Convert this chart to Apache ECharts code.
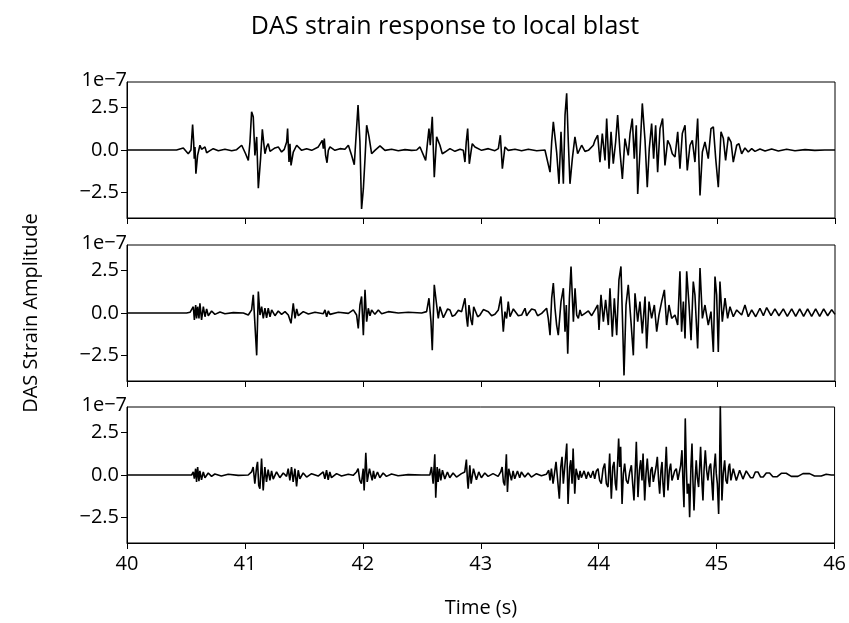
<!DOCTYPE html>
<html>
<head>
<meta charset="utf-8">
<script src="https://cdn.jsdelivr.net/npm/echarts@6/dist/echarts.min.js"></script>
<style>html,body{margin:0;padding:0;background:#fff}#c{width:849px;height:623px}</style>
</head>
<body>
<div id="c"></div>
<script>
// Values in units of 1e-7 strain; time in seconds
const X_TICKS = [40, 41, 42, 43, 44, 45, 46];
const Y_TICKS = [-2.5, 0, 2.5];
const TRACE1 = [[40.000,0],[40.420,0],[40.477,0.12],[40.519,-0.22],[40.542,0],[40.556,1.5],[40.565,0.47],[40.570,-0.51],[40.576,0.18],[40.584,-1.4],[40.598,-0.32],[40.618,0.28],[40.632,0.04],[40.647,-0.02],[40.661,0.18],[40.675,-0.16],[40.703,-0.04],[40.731,0.08],[40.774,-0.04],[40.830,0.04],[40.887,-0.04],[40.929,0.02],[40.972,0.28],[41.005,-0.22],[41.028,-0.61],[41.042,0.47],[41.056,2.25],[41.070,1.95],[41.084,-0.32],[41.099,0.77],[41.113,-2.25],[41.132,-0.51],[41.147,1.22],[41.158,0.47],[41.169,-0.22],[41.183,0.18],[41.197,0.37],[41.212,-0.08],[41.226,-0.12],[41.254,0.12],[41.282,0.18],[41.310,-0.12],[41.333,0.04],[41.353,0.47],[41.361,1.26],[41.373,-0.71],[41.381,0.37],[41.390,-0.91],[41.409,-0.12],[41.438,0.28],[41.480,-0.02],[41.522,0.08],[41.565,-0.02],[41.621,0.18],[41.655,0.57],[41.664,0.08],[41.672,0.67],[41.683,-0.32],[41.695,-0.75],[41.706,-0.02],[41.720,0.18],[41.762,-0.02],[41.805,0.08],[41.847,0.04],[41.876,0.28],[41.904,-0.32],[41.926,-0.87],[41.958,2.64],[41.974,0.47],[41.988,-3.47],[42.003,-2.29],[42.017,-0.51],[42.031,1.46],[42.051,0.77],[42.073,-0.22],[42.101,-0.02],[42.144,0.24],[42.186,-0.02],[42.243,0.04],[42.299,-0.04],[42.356,0.02],[42.412,-0.02],[42.455,0],[42.483,0.18],[42.531,-0.61],[42.559,1.26],[42.570,0.28],[42.587,1.95],[42.604,-1.6],[42.624,0.77],[42.652,0.28],[42.672,-0.22],[42.695,-0.12],[42.737,0.08],[42.779,-0.08],[42.822,0.04],[42.850,-0.02],[42.864,-0.71],[42.875,0.47],[42.887,1.26],[42.901,-0.81],[42.915,-0.12],[42.926,0.37],[42.949,0.18],[43.005,-0.02],[43.062,0.08],[43.118,-0.04],[43.147,0.08],[43.164,0.87],[43.181,-1.1],[43.203,0.18],[43.231,-0.02],[43.288,0.04],[43.344,-0.04],[43.401,0.04],[43.472,-0.04],[43.542,0],[43.556,0.08],[43.585,-1.3],[43.599,0.47],[43.613,1.66],[43.627,1.56],[43.641,-0.12],[43.661,-1.99],[43.678,1.07],[43.698,-1.99],[43.712,2.05],[43.726,3.33],[43.740,0.47],[43.754,-1.99],[43.774,-0.51],[43.796,0.77],[43.819,-0.22],[43.853,0.28],[43.881,-0.08],[43.910,-0.02],[43.952,0.28],[43.966,0.57],[43.989,0.87],[44.008,-0.71],[44.028,0.97],[44.051,-0.61],[44.065,1.85],[44.085,-1.1],[44.102,1.07],[44.121,-0.81],[44.141,0.47],[44.158,2.05],[44.178,-0.12],[44.198,-1.7],[44.220,0.67],[44.248,-0.32],[44.263,0.97],[44.282,1.85],[44.299,-0.51],[44.316,1.46],[44.328,-2.58],[44.347,-0.12],[44.367,2.74],[44.390,0.57],[44.409,-2.19],[44.426,0.08],[44.446,1.56],[44.463,-0.51],[44.480,1.46],[44.497,-1.3],[44.517,1.26],[44.539,1.85],[44.559,-0.91],[44.582,0.57],[44.602,0.28],[44.621,-0.22],[44.644,-0.41],[44.667,1.07],[44.686,-1.1],[44.706,0.97],[44.729,1.46],[44.748,-1.2],[44.771,0.28],[44.791,0.57],[44.813,-0.71],[44.836,1.85],[44.856,-2.68],[44.876,-0.12],[44.898,0.47],[44.926,-0.51],[44.949,1.26],[44.969,1.36],[44.989,-0.51],[45.011,-2.19],[45.034,1.07],[45.054,0.67],[45.073,-0.61],[45.096,0.77],[45.119,0.47],[45.138,-0.71],[45.167,0.28],[45.186,0.37],[45.209,-0.22],[45.237,0.12],[45.265,-0.12],[45.294,0.08],[45.322,-0.08],[45.364,0.06],[45.407,-0.06],[45.463,0.06],[45.520,-0.06],[45.590,0.04],[45.661,-0.04],[45.746,0.02],[45.829,-0.02],[45.913,0],[46.000,0]];
const TRACE2 = [[40.000,0],[40.505,0],[40.534,0.04],[40.562,0.37],[40.571,-0.41],[40.582,0.47],[40.590,-0.32],[40.599,0.37],[40.610,-0.32],[40.618,0.57],[40.632,-0.41],[40.647,0.37],[40.661,-0.22],[40.675,0.24],[40.689,-0.16],[40.717,0.12],[40.745,-0.08],[40.788,0.06],[40.830,-0.04],[40.901,0.02],[40.986,0],[41.028,-0.12],[41.056,0.18],[41.070,1.07],[41.084,0.97],[41.099,-2.49],[41.113,1.26],[41.127,-0.12],[41.141,0.37],[41.155,-0.32],[41.169,0.28],[41.183,-0.28],[41.197,0.28],[41.212,-0.22],[41.226,0.18],[41.254,-0.16],[41.282,0.12],[41.310,-0.08],[41.339,0.08],[41.367,-0.12],[41.390,-0.61],[41.409,0.57],[41.424,-0.32],[41.438,0.24],[41.452,-0.16],[41.494,0.08],[41.537,-0.06],[41.593,0.04],[41.664,-0.04],[41.678,0.18],[41.692,-0.22],[41.706,0.12],[41.720,-0.08],[41.791,0.04],[41.876,-0.02],[41.918,0.18],[41.946,-0.12],[41.960,-0.91],[41.974,0.47],[41.988,0.97],[42.003,-1.3],[42.017,1.36],[42.031,-0.51],[42.045,0.28],[42.059,-0.16],[42.073,0.18],[42.101,-0.08],[42.130,0.18],[42.158,-0.04],[42.214,0.08],[42.299,0],[42.384,0.04],[42.497,0],[42.539,0.08],[42.559,0.87],[42.576,-0.51],[42.587,-2.19],[42.604,1.66],[42.624,0.47],[42.638,-0.32],[42.652,0.37],[42.666,0.28],[42.681,-0.28],[42.695,-0.22],[42.717,0.24],[42.737,0.18],[42.757,-0.2],[42.779,-0.12],[42.808,0.16],[42.836,0.08],[42.864,0.87],[42.878,-0.32],[42.887,-0.81],[42.898,0.47],[42.915,-0.41],[42.926,-0.71],[42.938,0.37],[42.949,0.18],[42.972,-0.22],[42.991,-0.12],[43.020,0.2],[43.062,0.08],[43.090,-0.16],[43.118,-0.08],[43.147,0.18],[43.169,0.97],[43.189,-1.1],[43.203,0.08],[43.217,-0.32],[43.231,0.67],[43.246,-0.22],[43.260,-0.32],[43.274,0.24],[43.288,0.28],[43.316,-0.16],[43.344,-0.12],[43.373,0.28],[43.387,-0.16],[43.401,-0.02],[43.429,0.24],[43.457,0.18],[43.480,-0.16],[43.514,-0.02],[43.556,0.28],[43.570,-0.32],[43.585,-1.3],[43.599,0.87],[43.613,1.76],[43.627,0.28],[43.641,-0.71],[43.655,-1.3],[43.678,0.67],[43.698,1.46],[43.712,-1.1],[43.723,0.47],[43.735,-2.39],[43.749,0.87],[43.763,2.74],[43.783,-0.51],[43.797,1.46],[43.811,-0.12],[43.825,-0.32],[43.839,0.18],[43.853,-0.16],[43.881,-0.02],[43.910,0.12],[43.938,-0.16],[43.966,0.18],[43.989,0.47],[44.000,-1.0],[44.017,1.07],[44.037,-0.51],[44.056,0.77],[44.079,-0.71],[44.093,1.46],[44.113,-1.4],[44.130,0.87],[44.150,-1.3],[44.169,1.95],[44.186,2.74],[44.198,-0.12],[44.212,-3.67],[44.229,0.47],[44.248,1.66],[44.271,-0.51],[44.291,-2.49],[44.305,1.16],[44.328,-0.51],[44.347,0.67],[44.367,-1.2],[44.390,0.97],[44.404,-2.09],[44.424,0.67],[44.446,-0.32],[44.469,0.47],[44.489,-1.1],[44.508,-0.12],[44.531,0.67],[44.554,1.36],[44.573,-0.71],[44.593,0.47],[44.616,-0.32],[44.644,-0.12],[44.667,-0.71],[44.686,2.45],[44.700,-1.1],[44.715,0.67],[44.729,-1.5],[44.743,2.45],[44.763,0.47],[44.780,-1.6],[44.799,1.85],[44.813,1.07],[44.836,-2.09],[44.856,2.64],[44.876,-0.32],[44.898,0.47],[44.926,-0.71],[44.949,0.08],[44.969,-2.29],[44.983,2.15],[44.997,1.07],[45.011,-2.29],[45.025,1.85],[45.045,-0.51],[45.068,0.87],[45.090,-0.32],[45.110,0.37],[45.138,-0.22],[45.167,0.18],[45.209,-0.12],[45.237,0.47],[45.265,-0.22],[45.294,0.18],[45.328,-0.22],[45.364,0.28],[45.393,-0.16],[45.421,0.32],[45.458,-0.16],[45.491,0.24],[45.525,-0.16],[45.562,0.24],[45.596,-0.2],[45.633,0.24],[45.667,-0.2],[45.701,0.24],[45.734,-0.2],[45.768,0.24],[45.802,-0.2],[45.836,0.24],[45.870,-0.2],[45.904,0.24],[45.938,-0.16],[45.972,0.2],[46.000,-0.08]];
const TRACE3 = [[40.000,0],[40.548,0],[40.562,0.18],[40.571,-0.22],[40.582,0.37],[40.590,-0.41],[40.599,0.47],[40.610,-0.36],[40.618,0.24],[40.632,-0.28],[40.647,0.18],[40.661,-0.16],[40.689,0.12],[40.717,-0.08],[40.745,0.06],[40.800,-0.06],[40.858,0.04],[40.943,-0.02],[41.028,0],[41.056,0.18],[41.070,0.47],[41.084,-0.51],[41.099,0.47],[41.107,0.77],[41.117,-0.61],[41.127,-0.81],[41.141,0.97],[41.155,-0.91],[41.169,0.47],[41.183,-0.41],[41.197,0.32],[41.212,-0.32],[41.226,0.24],[41.240,-0.24],[41.268,0.18],[41.296,-0.16],[41.325,0.12],[41.353,-0.08],[41.367,0.37],[41.381,-0.32],[41.395,0.47],[41.409,-0.41],[41.424,0.37],[41.438,-0.67],[41.452,0.28],[41.466,-0.22],[41.494,0.12],[41.523,-0.12],[41.565,0.08],[41.621,-0.06],[41.664,0.18],[41.678,-0.22],[41.692,0.28],[41.706,-0.28],[41.720,0.18],[41.734,-0.16],[41.777,0.08],[41.819,-0.06],[41.876,0.04],[41.918,-0.02],[41.946,0.18],[41.960,0.37],[41.974,-0.32],[41.988,-0.51],[42.003,0.37],[42.011,-0.91],[42.025,1.3],[42.037,-0.41],[42.045,-0.51],[42.056,0.37],[42.068,0.28],[42.079,-0.32],[42.090,0.24],[42.101,-0.22],[42.124,0.18],[42.144,-0.16],[42.172,0.12],[42.200,-0.08],[42.243,0.06],[42.299,-0.04],[42.384,0.02],[42.497,0],[42.568,0],[42.582,0.47],[42.596,-0.51],[42.610,1.22],[42.618,-1.34],[42.630,0.47],[42.638,-0.41],[42.649,0.37],[42.661,-0.32],[42.675,0.28],[42.695,-0.24],[42.717,0.18],[42.737,-0.16],[42.765,0.12],[42.794,-0.12],[42.836,0.08],[42.864,0.18],[42.878,0.91],[42.887,-0.32],[42.893,-0.81],[42.907,0.57],[42.918,-0.51],[42.926,-0.61],[42.938,0.37],[42.949,0.28],[42.963,-0.28],[42.983,0.18],[43.005,-0.16],[43.034,0.12],[43.062,-0.08],[43.104,0.08],[43.147,-0.08],[43.169,0.18],[43.181,0.47],[43.192,-0.41],[43.203,-0.61],[43.217,1.22],[43.226,-1.0],[43.237,0.37],[43.246,0.28],[43.260,-0.32],[43.274,0.24],[43.288,-0.22],[43.311,0.24],[43.330,-0.16],[43.344,0.18],[43.373,-0.12],[43.401,0.12],[43.429,-0.12],[43.472,0.08],[43.514,-0.04],[43.556,0.04],[43.576,0.28],[43.587,-0.32],[43.599,0.37],[43.613,-0.51],[43.627,-0.61],[43.638,0.77],[43.650,0.87],[43.666,-1.4],[43.678,0.47],[43.689,1.07],[43.700,-0.51],[43.712,-0.51],[43.729,1.85],[43.740,-1.7],[43.754,0.47],[43.763,0.87],[43.774,-0.51],[43.783,1.56],[43.797,-1.1],[43.808,0.37],[43.830,-0.28],[43.842,0.24],[43.853,-0.16],[43.876,0.24],[43.895,-0.22],[43.910,0.18],[43.932,-0.16],[43.952,0.24],[43.966,-0.22],[43.980,0.24],[43.994,0.37],[44.008,-0.32],[44.022,-0.51],[44.037,0.37],[44.051,0.67],[44.065,-0.51],[44.079,-0.71],[44.093,1.26],[44.107,-1.4],[44.119,0.47],[44.130,0.77],[44.141,-0.51],[44.150,-0.91],[44.169,2.15],[44.178,0.47],[44.186,1.66],[44.198,-1.7],[44.209,0.08],[44.220,0.67],[44.234,-0.32],[44.248,-0.51],[44.263,0.18],[44.277,0.57],[44.288,-0.51],[44.299,-1.5],[44.311,0.47],[44.319,1.95],[44.333,-1.3],[44.345,0.28],[44.356,0.87],[44.367,-0.32],[44.376,1.26],[44.390,-1.5],[44.401,0.08],[44.412,0.97],[44.424,-0.32],[44.432,-0.71],[44.441,0.28],[44.452,0.47],[44.463,-0.41],[44.475,-0.32],[44.486,0.47],[44.497,1.07],[44.508,-0.32],[44.517,-1.1],[44.528,0.28],[44.537,0.77],[44.545,-0.51],[44.554,-1.3],[44.565,0.47],[44.573,1.66],[44.587,-0.91],[44.599,0.28],[44.610,0.67],[44.621,-0.32],[44.630,-0.12],[44.644,0.24],[44.658,0.37],[44.672,-0.28],[44.686,-0.32],[44.695,0.57],[44.706,1.46],[44.715,-0.51],[44.723,-1.89],[44.734,3.33],[44.743,0.47],[44.751,-1.1],[44.763,-0.51],[44.771,-2.49],[44.782,0.47],[44.791,1.85],[44.799,-0.32],[44.808,-2.09],[44.819,-0.12],[44.827,0.87],[44.836,-0.12],[44.847,-0.71],[44.856,0.47],[44.864,1.66],[44.876,-0.51],[44.884,-1.5],[44.893,0.28],[44.904,1.46],[44.915,0.28],[44.926,-0.32],[44.938,0.47],[44.949,0.67],[44.960,-0.51],[44.969,-1.5],[44.977,0.28],[44.989,1.26],[44.997,0.08],[45.006,-0.51],[45.017,-2.29],[45.025,0.47],[45.031,4.12],[45.040,0.47],[45.045,-1.5],[45.056,0.08],[45.068,0.87],[45.079,-0.32],[45.090,-0.51],[45.102,0.47],[45.110,0.67],[45.121,-0.32],[45.130,-0.41],[45.141,0.37],[45.152,0.47],[45.167,-0.32],[45.181,-0.32],[45.195,0.28],[45.209,0.28],[45.223,-0.24],[45.237,-0.22],[45.251,0.24],[45.265,0.24],[45.288,-0.16],[45.308,-0.16],[45.328,0.18],[45.350,0.18],[45.373,-0.12],[45.395,-0.12],[45.421,0.12],[45.449,0.12],[45.477,-0.1],[45.514,-0.1],[45.548,0.1],[45.590,0.1],[45.633,-0.08],[45.689,-0.08],[45.732,0.08],[45.788,0.08],[45.830,-0.06],[45.887,-0.06],[45.929,0.04],[45.972,0],[46.000,0]];
const TRACES = [TRACE1, TRACE2, TRACE3];

const FONT = 'Open Sans';
const chart = echarts.init(document.getElementById('c'), null, {renderer: 'canvas'});
const tops = [82, 245, 407];
const H = 136;
const fmtY = v => (v < 0 ? '\u2212' : '') + Math.abs(v).toFixed(1);

const grids = tops.map(t => ({left: 127, right: 14, top: t, height: H, show: true, borderColor: '#000', borderWidth: 1, containLabel: false}));
const xAxes = tops.map((t, i) => ({
  type: 'value', gridIndex: i, min: X_TICKS[0], max: X_TICKS[X_TICKS.length - 1], interval: 1,
  axisLine: {show: true, onZero: false, lineStyle: {color: '#000', width: 1}},
  axisTick: {show: true, length: 6, lineStyle: {color: '#000', width: 1}},
  axisLabel: {show: i === 2, color: '#000', fontFamily: FONT, fontSize: 20, margin: 11},
  splitLine: {show: false}
}));
const yAxes = tops.map((t, i) => ({
  type: 'value', gridIndex: i, min: -4, max: 4,
  axisLine: {show: true, lineStyle: {color: '#000', width: 1}},
  axisTick: {show: true, length: 6, customValues: Y_TICKS, lineStyle: {color: '#000', width: 1}},
  axisLabel: {show: true, customValues: Y_TICKS, formatter: fmtY, color: '#000', fontFamily: FONT, fontSize: 20, margin: 8},
  splitLine: {show: false}
}));
const series = TRACES.map((tr, i) => ({
  type: 'line', xAxisIndex: i, yAxisIndex: i, data: tr, showSymbol: false, symbol: 'none',
  clip: true, lineStyle: {color: '#000', width: 1.6}, silent: true
}));

const graphic = [
  {type: 'text', x: 445, y: 27, style: {text: 'DAS strain response to local blast', fontFamily: FONT, fontSize: 25, fill: '#000', textAlign: 'center', textVerticalAlign: 'middle'}},
  {type: 'text', x: 481, y: 608, style: {text: 'Time (s)', fontFamily: FONT, fontSize: 20, fill: '#000', textAlign: 'center', textVerticalAlign: 'middle'}},
  {type: 'text', x: 31, y: 313, rotation: Math.PI / 2, style: {text: 'DAS Strain Amplitude', fontFamily: FONT, fontSize: 20, fill: '#000', textAlign: 'center', textVerticalAlign: 'middle'}}
].concat(tops.map(t => ({type: 'text', x: 127, y: t - 2, style: {text: '1e\u22127', fontFamily: FONT, fontSize: 20, fill: '#000', textAlign: 'right', textVerticalAlign: 'middle'}})));

chart.setOption({
  backgroundColor: '#fff',
  animation: false,
  grid: grids,
  xAxis: xAxes,
  yAxis: yAxes,
  series: series,
  graphic: graphic
});
</script>
</body>
</html>
